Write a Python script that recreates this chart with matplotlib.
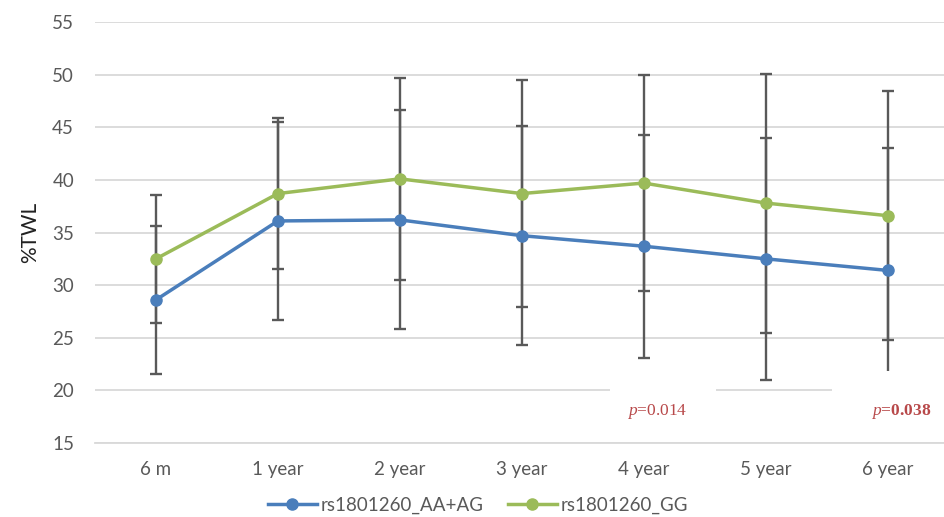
import matplotlib.pyplot as plt
from matplotlib.patches import Rectangle

plt.rcParams['font.family'] = ['Lato', 'DejaVu Sans']
plt.rcParams['mathtext.fontset'] = 'custom'
plt.rcParams['mathtext.it'] = 'Liberation Serif:italic'
plt.rcParams['mathtext.rm'] = 'Liberation Serif'

categories = ["6 m", "1 year", "2 year", "3 year", "4 year", "5 year", "6 year"]

aa_ag = [28.6, 36.1, 36.2, 34.7, 33.7, 32.5, 31.4]
aa_ag_err = [7.0, 9.4, 10.4, 10.4, 10.6, 11.5, 11.6]

gg = [32.5, 38.7, 40.1, 38.7, 39.7, 37.8, 36.6]
gg_err = [6.1, 7.2, 9.6, 10.8, 10.3, 12.3, 11.8]

p_labels = ["0.014", "0.038"]
p_at = [4, 6]

blue = "#4a7ebb"
green = "#9bbb59"
grey = "#595959"

fig = plt.figure(figsize=(9.45, 5.17), dpi=100)
ax = fig.add_axes([0.1005, 0.1431, 0.8995, 0.8143])

x = list(range(len(categories)))

for y, err in [(aa_ag, aa_ag_err), (gg, gg_err)]:
    ax.errorbar(x, y, yerr=err, fmt="none", ecolor=grey, elinewidth=1.7,
                capsize=4.3, capthick=1.7, zorder=2)

ax.plot(x, aa_ag, color=blue, lw=2.5, marker="o", ms=8, label="rs1801260_AA+AG", zorder=3)
ax.plot(x, gg, color=green, lw=2.5, marker="o", ms=8, label="rs1801260_GG", zorder=3)

ax.set_xlim(-0.5, 6.47)
ax.set_ylim(15, 55)
ax.set_yticks(range(15, 56, 5))
ax.set_xticks(x)
ax.set_xticklabels(categories)
ax.grid(axis="y", color="#d9d9d9", lw=1.3, zorder=0)
ax.set_axisbelow(True)
for s in ["left", "right", "top"]:
    ax.spines[s].set_visible(False)
ax.spines["bottom"].set_color("#d9d9d9")
ax.spines["bottom"].set_linewidth(1.3)
ax.tick_params(axis="both", length=0, labelsize=13.5, colors=grey)
ax.tick_params(axis="y", pad=15)
ax.tick_params(axis="x", pad=13)
ax.set_ylabel("%TWL", fontsize=15, color="#222222", labelpad=9)

# white boxes the p-values sit on (they hide part of the 20 gridline)
boxes = [(3.72, 4.59), (5.54, 6.6)]
for x0, x1 in boxes:
    ax.add_patch(Rectangle((x0, 16.8), x1 - x0, 5.0, facecolor="white",
                           edgecolor="none", zorder=4))
for lab, xi, bold in zip(p_labels, p_at, [False, True]):
    ax.text(xi + 0.11, 18.0, r"$p$=" + lab, ha="center", va="center",
            fontsize=12.5, color="#b8494a", family="Liberation Serif",
            fontweight="bold" if bold else "normal", zorder=5)

fig.legend(loc="center", bbox_to_anchor=(478 / 945, 1 - 505 / 517), ncol=2,
           frameon=False, fontsize=13.5, handlelength=2.6, handletextpad=0.2,
           columnspacing=1.3, labelcolor=grey)

fig.savefig("out.png", dpi=100)
